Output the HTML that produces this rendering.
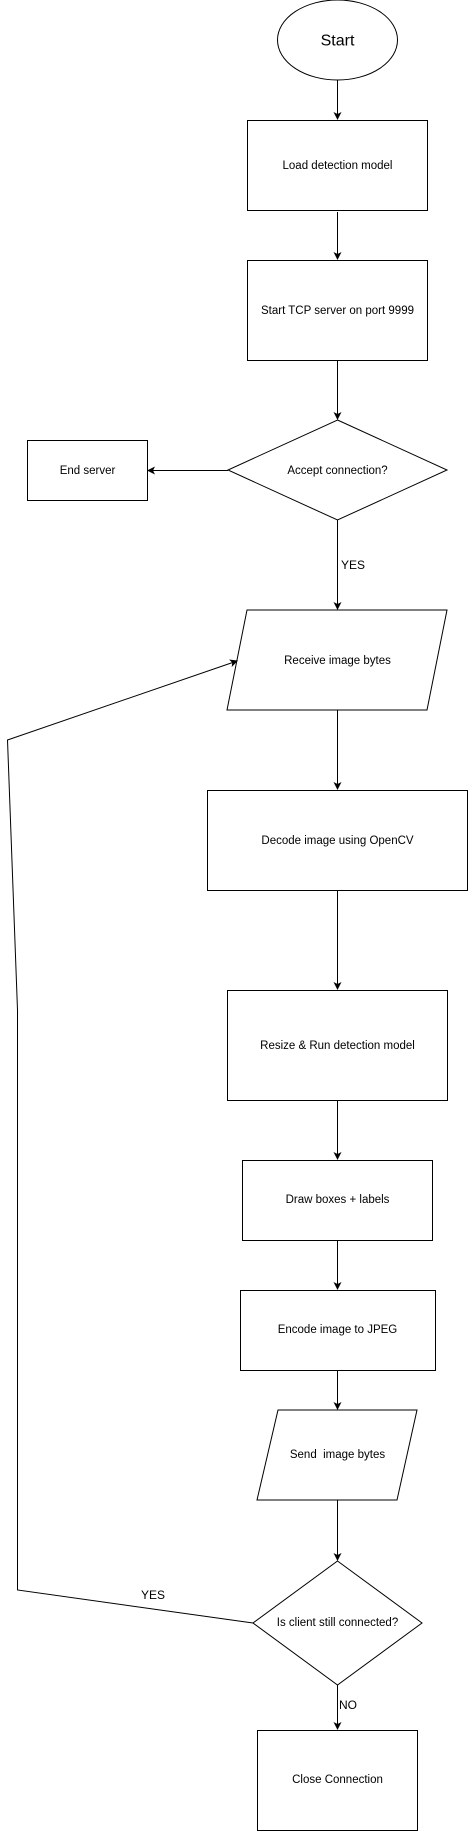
<!DOCTYPE html>
<html><head><meta charset="utf-8"><style>
html,body{margin:0;padding:0;background:#fff;}
svg{display:block;}
text{font-family:"Liberation Sans",Arial,sans-serif;font-size:11.5px;fill:#000;text-anchor:middle;dominant-baseline:central;}
</style></head><body>
<svg width="468" height="1831" viewBox="0 0 468 1831" xmlns="http://www.w3.org/2000/svg">
<defs><marker id="a" markerWidth="8" markerHeight="8" refX="7" refY="4" orient="auto" markerUnits="userSpaceOnUse"><path d="M0,0 L8,4 L0,8 L2,4 Z" fill="#000"/></marker></defs>
<g fill="none" stroke="#000" stroke-width="1">
<ellipse cx="337.5" cy="40" rx="60" ry="40" fill="#fff"/>
<rect x="247.5" y="120.5" width="180" height="90"/>
<rect x="247.5" y="260.5" width="180" height="100"/>
<polygon points="337.5,420 447,470 337.5,520 228,470"/>
<rect x="27.5" y="440.5" width="120" height="60"/>
<polygon points="247,610 447,610 427,710 227,710"/>
<rect x="207.5" y="790.5" width="260" height="100"/>
<rect x="227.5" y="990.5" width="220" height="110"/>
<rect x="242.5" y="1160.5" width="190" height="80"/>
<rect x="240.5" y="1290.5" width="195" height="80"/>
<polygon points="278,1410 417,1410 397,1500 257,1500"/>
<polygon points="337.5,1561 422,1623 337.5,1685 253,1623"/>
<rect x="257.5" y="1730.5" width="160" height="100"/>
<line x1="337.5" y1="80" x2="337.5" y2="119" marker-end="url(#a)"/>
<line x1="337.5" y1="212" x2="337.5" y2="259" marker-end="url(#a)"/>
<line x1="337.5" y1="361" x2="337.5" y2="419" marker-end="url(#a)"/>
<line x1="228" y1="470.5" x2="148" y2="470.5" marker-end="url(#a)"/>
<line x1="337.5" y1="520" x2="337.5" y2="609" marker-end="url(#a)"/>
<line x1="337.5" y1="710" x2="337.5" y2="789" marker-end="url(#a)"/>
<line x1="337.5" y1="891" x2="337.5" y2="989" marker-end="url(#a)"/>
<line x1="337.5" y1="1101" x2="337.5" y2="1159" marker-end="url(#a)"/>
<line x1="337.5" y1="1241" x2="337.5" y2="1289" marker-end="url(#a)"/>
<line x1="337.5" y1="1371" x2="337.5" y2="1409" marker-end="url(#a)"/>
<line x1="337.5" y1="1500" x2="337.5" y2="1560" marker-end="url(#a)"/>
<line x1="337.5" y1="1685" x2="337.5" y2="1729" marker-end="url(#a)"/>
<polyline points="253,1623 17.5,1590 17.5,1010 7.5,740 237,661" marker-end="url(#a)"/>
</g>
<text x="337.5" y="41" style="font-size:16px">Start</text>
<text x="337.5" y="166">Load detection model</text>
<text x="337.5" y="311">Start TCP server on port 9999</text>
<text x="337.5" y="471">Accept connection?</text>
<text x="87.5" y="471">End server</text>
<text x="353" y="565" style="font-size:12px">YES</text>
<text x="337.5" y="661">Receive image bytes</text>
<text x="337.5" y="841">Decode image using OpenCV</text>
<text x="337.5" y="1046">Resize &amp; Run detection model</text>
<text x="337.5" y="1200">Draw boxes + labels</text>
<text x="337.5" y="1330">Encode image to JPEG</text>
<text x="337.5" y="1455" style="white-space:pre">Send  image bytes</text>
<text x="337.5" y="1623">Is client still connected?</text>
<text x="153" y="1595" style="font-size:12px">YES</text>
<text x="348" y="1705" style="font-size:12px">NO</text>
<text x="337.5" y="1780">Close Connection</text>
</svg>
</body></html>
